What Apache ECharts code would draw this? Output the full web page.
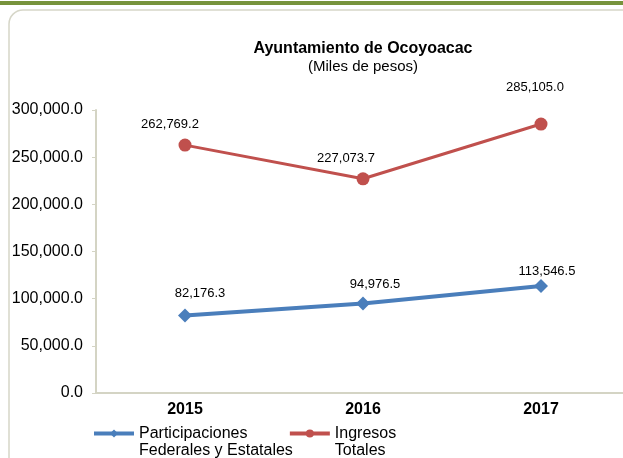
<!DOCTYPE html>
<html>
<head>
<meta charset="utf-8">
<script src="https://cdn.jsdelivr.net/npm/echarts@6/dist/echarts.min.js"></script>
<style>
  html, body { margin: 0; padding: 0; background: #fff; }
  #main { width: 623px; height: 458px; }
</style>
</head>
<body>
<div id="main"></div>
<script>
// Ayuntamiento de Ocoyoacac (miles de pesos)
const years = ['2015', '2016', '2017']
const participaciones = [82176.3, 94976.5, 113546.5]
const ingresos = [262769.2, 227073.7, 285105.0]
const yTicks = [0, 50000, 100000, 150000, 200000, 250000, 300000]

const fmt = v => v.toLocaleString('en-US', { minimumFractionDigits: 1, maximumFractionDigits: 1 })
const font = '"Liberation Sans", Arial, sans-serif'

// label nudges, as placed in the original sheet
const labelShift = [
  [[15, -1], [12, 3], [6, 7]],
  [[-15, 0], [-17, 1], [-6, -16]]
]

let myChart = echarts.init(document.getElementById('main'))
let options = {
  animation: false,
  graphic: [
    { type: 'rect', shape: { x: 0, y: 1, width: 623, height: 4 }, style: { fill: '#77933c' } },
    { type: 'rect', shape: { x: 9, y: 10, width: 640, height: 470, r: 14 },
      style: { fill: 'none', stroke: '#d6d6c8', lineWidth: 1.5 } }
  ],
  title: {
    text: 'Ayuntamiento de Ocoyoacac',
    subtext: '(Miles de pesos)',
    left: 358,
    top: 36,
    textAlign: 'center',
    itemGap: 2,
    textStyle: { fontFamily: font, fontSize: 16, fontWeight: 'bold', color: '#000' },
    subtextStyle: { fontFamily: font, fontSize: 15, color: '#000' }
  },
  legend: {
    left: 92,
    top: 408,
    padding: 0,
    itemGap: -5,
    itemWidth: 40,
    itemHeight: 10,
    lineStyle: { width: 4 },
    // leading blank line keeps the icon level with the first text line
    formatter: name => ' \n' + name,
    textStyle: { fontFamily: font, fontSize: 16, color: '#000', lineHeight: 17 },
    data: ['Participaciones\nFederales y Estatales', 'Ingresos\nTotales']
  },
  grid: { left: 96, width: 534, top: 110, height: 283, outerBoundsMode: 'none' },
  xAxis: {
    type: 'category',
    data: years,
    axisLine: { lineStyle: { color: '#d4d4c4', width: 2 } },
    axisTick: { length: 4, lineStyle: { color: '#d4d4c4' } },
    axisLabel: { fontFamily: font, fontSize: 16, fontWeight: 'bold', color: '#000', margin: 9 }
  },
  yAxis: {
    type: 'value',
    min: yTicks[0],
    max: yTicks[yTicks.length - 1],
    interval: yTicks[1] - yTicks[0],
    splitLine: { show: false },
    axisLine: { show: true, lineStyle: { color: '#d4d4c4', width: 2 } },
    axisTick: { show: true, length: 4, lineStyle: { color: '#d4d4c4' } },
    axisLabel: { fontFamily: font, fontSize: 16, color: '#000', margin: 13, formatter: fmt }
  },
  series: [{
    name: 'Participaciones\nFederales y Estatales',
    type: 'line',
    data: participaciones,
    symbol: 'diamond',
    symbolSize: 14,
    itemStyle: { color: '#4a7ebb' },
    lineStyle: { color: '#4a7ebb', width: 4 },
    label: { show: true, position: 'top', distance: 8, fontFamily: font, fontSize: 13, color: '#000', formatter: p => fmt(p.value) },
    labelLayout: p => ({ dx: labelShift[0][p.dataIndex][0], dy: labelShift[0][p.dataIndex][1] })
  }, {
    name: 'Ingresos\nTotales',
    type: 'line',
    data: ingresos,
    symbol: 'circle',
    symbolSize: 13,
    itemStyle: { color: '#c0504d' },
    lineStyle: { color: '#c0504d', width: 3 },
    label: { show: true, position: 'top', distance: 8, fontFamily: font, fontSize: 13, color: '#000', formatter: p => fmt(p.value) },
    labelLayout: p => ({ dx: labelShift[1][p.dataIndex][0], dy: labelShift[1][p.dataIndex][1] })
  }]
}
myChart.setOption(options)
</script>
</body>
</html>
